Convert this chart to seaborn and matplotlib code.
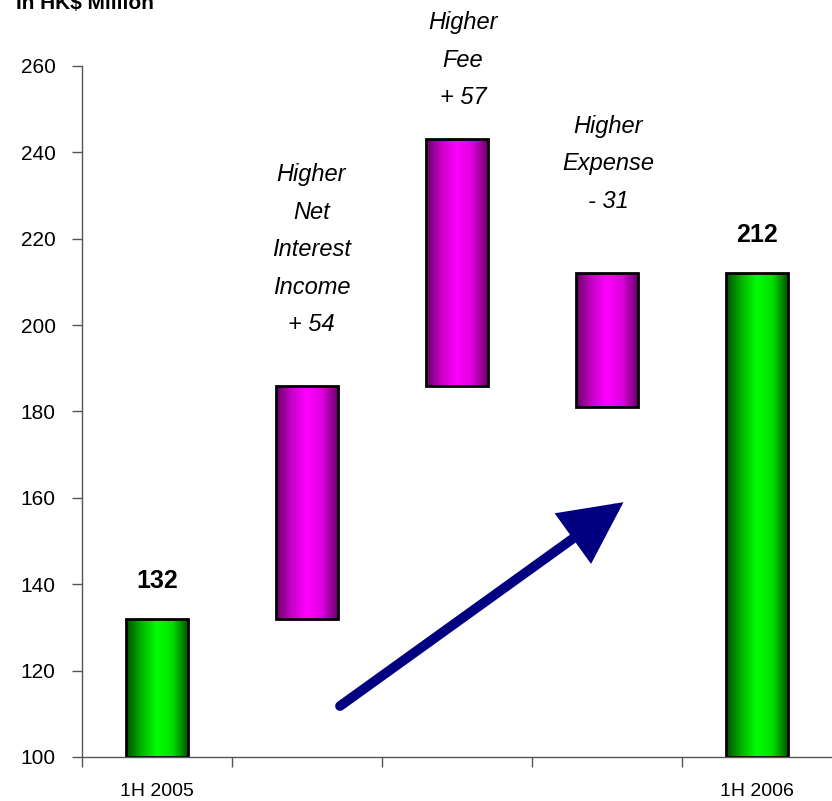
import numpy as np
import pandas as pd
import matplotlib
matplotlib.use("Agg")
import matplotlib.pyplot as plt
import seaborn as sns
from matplotlib.colors import LinearSegmentedColormap

# Waterfall: HK$ million, 1H 2005 -> 1H 2006
categories = ["1H 2005", "Net Interest Income", "Fee", "Expense", "1H 2006"]
bar_low = [100, 132, 186, 181, 100]
bar_high = [132, 186, 243, 212, 212]
kinds = ["total", "change", "change", "change", "total"]
step_labels = ["", "Higher\nNet\nInterest\nIncome\n+ 54", "Higher\nFee\n+ 57",
               "Higher\nExpense\n- 31", ""]
total_labels = ["132", "", "", "", "212"]
tick_names = ["1H 2005", "", "", "", "1H 2006"]
yticks = [100, 120, 140, 160, 180, 200, 220, 240, 260]

df = pd.DataFrame({"cat": categories,
                   "height": np.array(bar_high) - np.array(bar_low),
                   "low": bar_low, "high": bar_high, "kind": kinds})

sns.set_theme(style="white")
font = ["Liberation Sans", "DejaVu Sans"]
plt.rcParams["font.family"] = font
plt.rcParams["text.color"] = "black"
plt.rcParams["xtick.color"] = "black"
plt.rcParams["ytick.color"] = "black"

fig = plt.figure(figsize=(8.32, 8.01), dpi=100)
ax = fig.add_axes([82 / 832, 44 / 801, 750 / 832, 691 / 801])

sns.barplot(data=df, x="cat", y="height", bottom=df["low"].to_numpy(),
            width=0.41, ax=ax, color="white", edgecolor="black", linewidth=2)

ramps = {
    "total": LinearSegmentedColormap.from_list(
        "g", ["#004f00", "#00b400", "#00ff00", "#00e000", "#005500"]),
    "change": LinearSegmentedColormap.from_list(
        "m", ["#640064", "#c800c8", "#ff00ff", "#dc00dc", "#680068"]),
}
grad = np.linspace(0, 1, 256).reshape(1, -1)
for patch, kind in zip(ax.patches, df["kind"]):
    x0, y0 = patch.get_x(), patch.get_y()
    w, h = patch.get_width(), patch.get_height()
    im = ax.imshow(grad, cmap=ramps[kind], aspect="auto",
                   extent=[x0, x0 + w, y0, y0 + h], zorder=1.5,
                   interpolation="bilinear")
    im.set_clip_path(patch)
    patch.set_zorder(2)
    patch.set_facecolor("none")

# value labels above the totals
for i, (lab, hi) in enumerate(zip(total_labels, bar_high)):
    if lab:
        ax.text(i, hi + 6, lab, ha="center", va="bottom",
                fontsize=18, fontweight="bold")

# italic captions for the steps (bottom of each text block, in data units)
caption_x = [0, 1.03, 2.04, 3.01, 4]
caption_y = [0, 197.5, 250.0, 226.0, 0]
for lab, cx, cy in zip(step_labels, caption_x, caption_y):
    if lab:
        ax.text(cx, cy, lab, ha="center", va="bottom",
                fontsize=17, style="italic", linespacing=1.8)

# growth arrow
ax.annotate("", xy=(3.11, 159), xytext=(1.22, 111.8),
            arrowprops=dict(arrowstyle="-|>,head_length=2.8,head_width=1.4",
                            color="#000080", lw=7, shrinkA=0, shrinkB=0,
                            joinstyle="miter"),
            zorder=3)

ax.set_xlim(-0.5, 4.5)
ax.set_ylim(100, 260)
ax.set_yticks(yticks)
ax.set_yticklabels([str(v) for v in yticks])
ax.set_xticks([-0.5, 0.5, 1.5, 2.5, 3.5])
ax.set_xticklabels([])
ax.set_xticks(range(len(categories)), minor=True)
ax.set_xticklabels(tick_names, minor=True)
ax.tick_params(axis="x", which="major", direction="out", length=7,
               width=1, color="#555555", bottom=True)
ax.tick_params(axis="x", which="minor", length=0, pad=19, labelsize=14)
ax.tick_params(axis="y", direction="out", length=7, width=1,
               color="#555555", left=True, labelsize=15, pad=12)
ax.set_xlabel("")
ax.set_ylabel("")
for s in ["top", "right"]:
    ax.spines[s].set_visible(False)
for s in ["left", "bottom"]:
    ax.spines[s].set_color("#555555")
    ax.spines[s].set_linewidth(1)
ax.grid(False)

fig.text(16 / 832, 1 - 9 / 801, "In HK$ Million", ha="left", va="baseline",
         fontsize=15, fontweight="bold")

fig.savefig("out.png", dpi=100)
